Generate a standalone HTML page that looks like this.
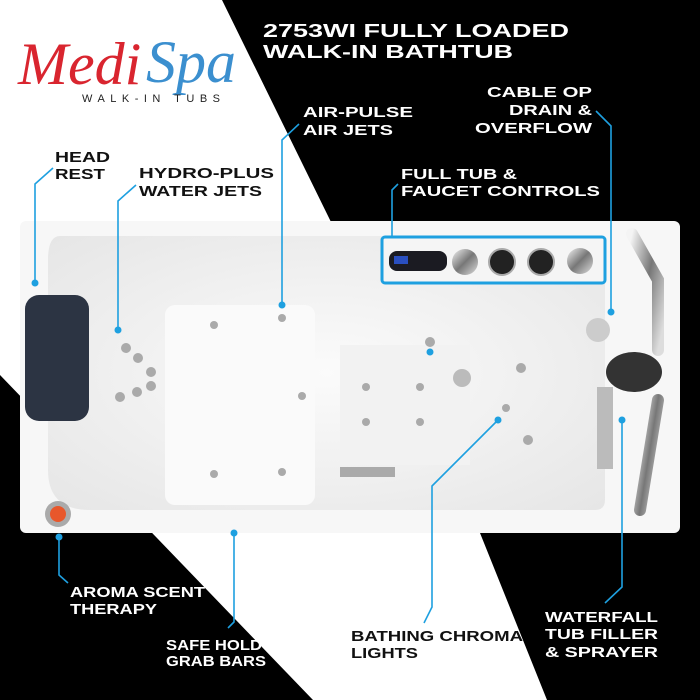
<!DOCTYPE html>
<html><head><meta charset="utf-8"><style>
html,body{margin:0;padding:0;width:700px;height:700px;overflow:hidden;background:#fff}
svg{display:block}
.l{font-family:"Liberation Sans",sans-serif;font-weight:bold;font-size:15px;fill:#fff}
.d{fill:#111}
</style></head><body>
<svg width="700" height="700" viewBox="0 0 700 700" xmlns="http://www.w3.org/2000/svg">
<defs>
<linearGradient id="ch" x1="0" y1="0" x2="1" y2="1"><stop offset="0" stop-color="#f4f4f4"/><stop offset=".5" stop-color="#777"/><stop offset="1" stop-color="#ddd"/></linearGradient>
<radialGradient id="bs" cx=".5" cy=".5" r=".7"><stop offset="0" stop-color="#fbfbfb"/><stop offset="1" stop-color="#e6e6e6"/></radialGradient>
</defs>
<rect width="700" height="700" fill="#fff"/>
<polygon points="222,0 700,0 700,700 547,700 480,533 330,220" fill="#000"/>
<polygon points="0,375 313,700 0,700" fill="#000"/>
<!-- logo -->
<text x="18" y="84" font-family="Liberation Serif,serif" font-style="italic" font-size="60" fill="#d9252f">Medi</text>
<text x="146" y="82" font-family="Liberation Serif,serif" font-style="italic" font-size="60" fill="#3b8fcf">Spa</text>
<text x="82" y="102" font-family="Liberation Sans,sans-serif" font-size="11" textLength="138" lengthAdjust="spacing" fill="#222">WALK-IN TUBS</text>
<!-- title -->
<text x="263" y="37" class="l" style="font-size:18px" textLength="306" lengthAdjust="spacingAndGlyphs">2753WI FULLY LOADED</text>
<text x="263" y="58" class="l" style="font-size:18px" textLength="250" lengthAdjust="spacingAndGlyphs">WALK-IN BATHTUB</text>
<!-- tub -->
<rect x="20" y="221" width="660" height="312" rx="6" fill="#f7f7f7"/>
<path d="M60,236 H600 Q605,236 605,245 V500 Q605,510 595,510 H90 Q48,510 48,470 V260 Q48,236 60,236 Z" fill="url(#bs)"/>
<rect x="165" y="305" width="150" height="200" rx="10" fill="#fafafa"/>
<rect x="340" y="345" width="130" height="120" fill="#f2f2f2"/>
<rect x="25" y="295" width="64" height="126" rx="14" fill="#2c3443"/>
<!-- control panel -->
<rect x="382" y="237" width="223" height="46" rx="3" fill="#f5f5f5" stroke="#1ea0e0" stroke-width="3"/>
<rect x="389" y="251" width="58" height="20" rx="8" fill="#1b1b22"/>
<rect x="394" y="256" width="14" height="8" fill="#2a4fc0"/>
<circle cx="465" cy="262" r="13" fill="url(#ch)"/>
<circle cx="502" cy="262" r="13" fill="#222" stroke="#aaa" stroke-width="2"/>
<circle cx="541" cy="262" r="13" fill="#222" stroke="#aaa" stroke-width="2"/>
<circle cx="580" cy="261" r="13" fill="url(#ch)"/>
<!-- grab bars -->
<path d="M632,234 L658,280 L658,350" stroke="url(#ch)" stroke-width="12" fill="none" stroke-linecap="round"/>
<path d="M658,400 L640,510" stroke="url(#ch)" stroke-width="12" fill="none" stroke-linecap="round"/>
<path d="M193,520 H326" stroke="url(#ch)" stroke-width="12" stroke-linecap="round"/>
<ellipse cx="634" cy="372" rx="28" ry="20" fill="#333"/>
<rect x="597" y="387" width="16" height="82" fill="#bbb"/>
<circle cx="598" cy="330" r="12" fill="#ccc"/>
<circle cx="462" cy="378" r="9" fill="#bbb"/>
<circle cx="58" cy="514" r="13" fill="#aaa"/><circle cx="58" cy="514" r="8" fill="#e8572b"/>
<rect x="340" y="467" width="55" height="10" fill="#aaa"/>
<g fill="#aaa">
<circle cx="126" cy="348" r="5"/><circle cx="138" cy="358" r="5"/><circle cx="151" cy="372" r="5"/>
<circle cx="120" cy="397" r="5"/><circle cx="137" cy="392" r="5"/><circle cx="151" cy="386" r="5"/>
<circle cx="214" cy="325" r="4"/><circle cx="282" cy="318" r="4"/><circle cx="302" cy="396" r="4"/>
<circle cx="214" cy="474" r="4"/><circle cx="282" cy="472" r="4"/><circle cx="366" cy="387" r="4"/><circle cx="420" cy="387" r="4"/>
<circle cx="366" cy="422" r="4"/><circle cx="420" cy="422" r="4"/><circle cx="521" cy="368" r="5"/><circle cx="528" cy="440" r="5"/>
<circle cx="430" cy="342" r="5"/><circle cx="506" cy="408" r="4"/>
</g>
<!-- callout lines -->
<g stroke="#1ea0e0" stroke-width="1.6" fill="none">
<polyline points="53,168 35,184 35,283"/>
<polyline points="136,185 118,201 118,330"/>
<polyline points="299,124 282,140 282,305"/>
<polyline points="398,184 392,190 392,237"/>
<polyline points="596,111 611,126 611,312"/>
<polyline points="59,537 59,575 68,583"/>
<polyline points="234,533 234,622 228,628"/>
<polyline points="498,420 432,486 432,607 424,623"/>
<polyline points="622,420 622,587 605,603"/>
</g>
<g fill="#1ea0e0">
<circle cx="35" cy="283" r="3.5"/><circle cx="118" cy="330" r="3.5"/><circle cx="282" cy="305" r="3.5"/>
<circle cx="611" cy="312" r="3.5"/><circle cx="59" cy="537" r="3.5"/><circle cx="234" cy="533" r="3.5"/>
<circle cx="498" cy="420" r="3.5"/><circle cx="430" cy="352" r="3.5"/><circle cx="622" cy="420" r="3.5"/>
</g>
<!-- labels -->
<g lengthAdjust="spacingAndGlyphs">
<text class="l" x="303" y="117" textLength="110" lengthAdjust="spacingAndGlyphs">AIR-PULSE</text><text class="l" x="303" y="135" textLength="90" lengthAdjust="spacingAndGlyphs">AIR JETS</text>
<text class="l" x="487" y="97" textLength="105" lengthAdjust="spacingAndGlyphs">CABLE OP</text><text class="l" x="509" y="115" textLength="83" lengthAdjust="spacingAndGlyphs">DRAIN &amp;</text><text class="l" x="475" y="133" textLength="117" lengthAdjust="spacingAndGlyphs">OVERFLOW</text>
<text class="l d" x="55" y="162" textLength="55" lengthAdjust="spacingAndGlyphs">HEAD</text><text class="l d" x="55" y="179" textLength="50" lengthAdjust="spacingAndGlyphs">REST</text>
<text class="l d" x="139" y="178" textLength="135" lengthAdjust="spacingAndGlyphs">HYDRO-PLUS</text><text class="l d" x="139" y="196" textLength="123" lengthAdjust="spacingAndGlyphs">WATER JETS</text>
<text class="l" x="401" y="179" textLength="116" lengthAdjust="spacingAndGlyphs">FULL TUB &amp;</text><text class="l" x="401" y="196" textLength="199" lengthAdjust="spacingAndGlyphs">FAUCET CONTROLS</text>
<text class="l" x="70" y="597" textLength="135" lengthAdjust="spacingAndGlyphs">AROMA SCENT</text><text class="l" x="70" y="614" textLength="87" lengthAdjust="spacingAndGlyphs">THERAPY</text>
<text class="l" x="166" y="650" textLength="96" lengthAdjust="spacingAndGlyphs">SAFE HOLD</text><text class="l" x="166" y="666" textLength="100" lengthAdjust="spacingAndGlyphs">GRAB BARS</text>
<text class="l d" x="351" y="641" textLength="172" lengthAdjust="spacingAndGlyphs">BATHING CHROMA</text><text class="l d" x="351" y="658" textLength="67" lengthAdjust="spacingAndGlyphs">LIGHTS</text>
<text class="l" x="545" y="622" textLength="113" lengthAdjust="spacingAndGlyphs">WATERFALL</text><text class="l" x="545" y="639" textLength="113" lengthAdjust="spacingAndGlyphs">TUB FILLER</text><text class="l" x="545" y="657" textLength="113" lengthAdjust="spacingAndGlyphs">&amp; SPRAYER</text>
</g>
</svg>
</body></html>
